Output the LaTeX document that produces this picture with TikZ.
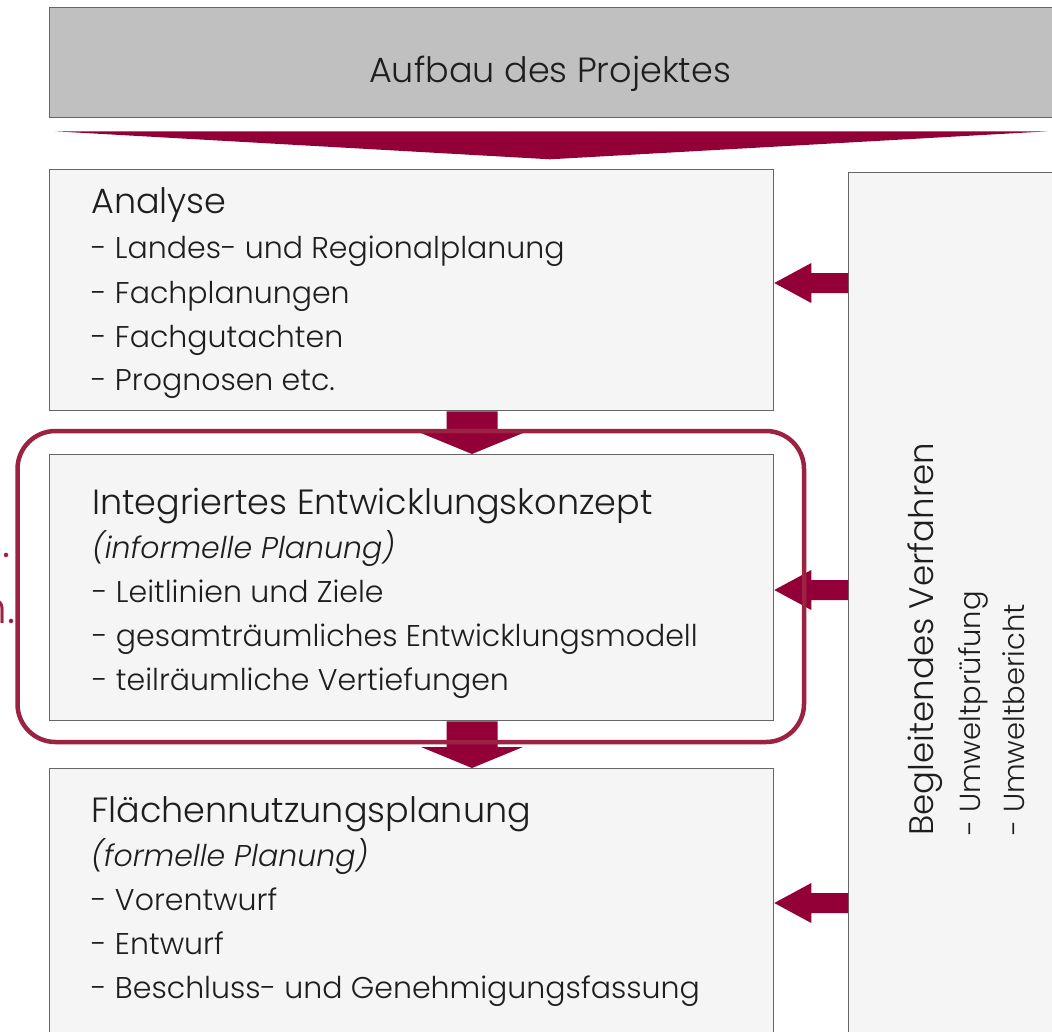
\documentclass[tikz,border=0pt]{standalone}
\usepackage{fontspec}
\setmainfont{Poppins}[UprightFont=* Light, ItalicFont=* Light Italic]
\usetikzlibrary{calc}
\definecolor{crimson}{HTML}{930037}
\definecolor{framered}{HTML}{9C2242}
\definecolor{boxgray}{HTML}{F5F5F5}
\definecolor{headgray}{HTML}{C0C0C0}
\definecolor{edgegray}{HTML}{666666}
\definecolor{inkgray}{HTML}{1E1E1E}
\begin{document}
\begin{tikzpicture}[x=1pt,y=-1pt,
  box/.style={draw=edgegray, line width=1.3pt, fill=boxgray, rectangle, inner sep=0pt, anchor=north west},
  txt/.style={anchor=base west, inner sep=0pt, text=inkgray, font=\fontsize{30}{30}\selectfont},
  ttl/.style={txt, font=\fontsize{35}{35}\selectfont},
  itl/.style={txt, font=\fontsize{30}{30}\selectfont\itshape},
  sidetxt/.style={txt, font=\fontsize{29}{29}\selectfont},
  blockfill/.style={fill=crimson, draw=none}
]
\useasboundingbox (0,0) rectangle (1052,1031);
\clip (0,0) rectangle (1052,1031);
\fill[white] (0,0) rectangle (1052,1031);

% boxes
\node[box, fill=headgray, minimum width=1100pt, minimum height=110pt] (head) at (49,7) {};
\node[box, minimum width=724pt, minimum height=241pt] (analyse) at (49,169) {};
\node[box, minimum width=724pt, minimum height=266pt] (integ) at (49,454) {};
\node[box, minimum width=724pt, minimum height=300pt] (flach) at (49,768) {};
\node[box, minimum width=300pt, minimum height=900pt] (right) at (848,172) {};

% header text
\node[anchor=base, inner sep=0pt, text=inkgray, font=\fontsize{35}{35}\selectfont] (headtxt) at (550,82) {Aufbau des Projektes};

% wedge below header
\coordinate (apex) at ($(head.south west)+(501,41)$);
\fill[blockfill] ($(head.south west)+(6,13)$) -- ($(head.south west)+(999,13)$) -- (apex) -- cycle;

% down block arrows
\foreach \s/\t in {analyse/integ, integ/flach}{
  \coordinate (S) at ($(\s.south west)+(423,0)$);
  \coordinate (T) at ($(\t.north west)+(423,0)$);
  \fill[blockfill] ($(S)+(-25.5,0)$) -- ($(T)+(-25.5,-21)$) -- ($(T)+(-51,-21)$) -- (T) -- ($(T)+(51,-21)$) -- ($(T)+(25.5,-21)$) -- ($(S)+(25.5,0)$) -- cycle;
}

% left block arrows from the right box
\foreach \b/\y in {analyse/283, integ/590, flach/903}{
  \coordinate (T) at (\b.east |- 0,\y);
  \coordinate (S) at (right.west |- 0,\y);
  \fill[blockfill] (T) -- ($(T)+(37,-20)$) -- ($(T)+(37,-10)$) -- ($(S)+(0,-10)$) -- ($(S)+(0,10)$) -- ($(T)+(37,10)$) -- ($(T)+(37,20)$) -- cycle;
}

% Analyse text
\node[ttl] (a0) at (91,213) {Analyse};
\node[txt] (a1) at (91,258) {- Landes- und Regionalplanung};
\node[txt] (a2) at (91,303) {- Fachplanungen};
\node[txt] (a3) at (91,347) {- Fachgutachten};
\node[txt] (a4) at (91,390) {- Prognosen etc.};

% Integriertes text
\node[ttl] (i0) at (92,514) {Integriertes Entwicklungskonzept};
\node[itl] (i1) at (92,558) {(informelle Planung)};
\node[txt] (i2) at (92,602) {- Leitlinien und Ziele};
\node[txt] (i3) at (92,646) {- gesamträumliches Entwicklungsmodell};
\node[txt] (i4) at (92,690) {- teilräumliche Vertiefungen};

% Flaechen text
\node[ttl] (f0) at (91,822) {Flächennutzungsplanung};
\node[itl] (f1) at (91,866) {(formelle Planung)};
\node[txt] (f2) at (91,910) {- Vorentwurf};
\node[txt] (f3) at (91,954) {- Entwurf};
\node[txt] (f4) at (91,998) {- Beschluss- und Genehmigungsfassung};

% right box rotated text
\node[ttl, font=\fontsize{34}{34}\selectfont, rotate=90] (r0) at (933,836) {Begleitendes Verfahren};
\node[sidetxt, rotate=90] (r1) at (980,836) {- Umweltprüfung};
\node[sidetxt, rotate=90] (r2) at (1024,836) {- Umweltbericht};

% red frame
\draw[framered, line width=4.5pt, rounded corners=38pt] (17.5,431) rectangle (804,742);

% cut-off red text at left edge
\node[anchor=base east, inner sep=0pt, text=framered, font=\fontsize{44}{44}\selectfont] (cut1) at (11,557) {.};
\node[anchor=base east, inner sep=0pt, text=framered, font=\fontsize{44}{44}\selectfont] (cut2) at (16,623) {n.};
\end{tikzpicture}
\end{document}
